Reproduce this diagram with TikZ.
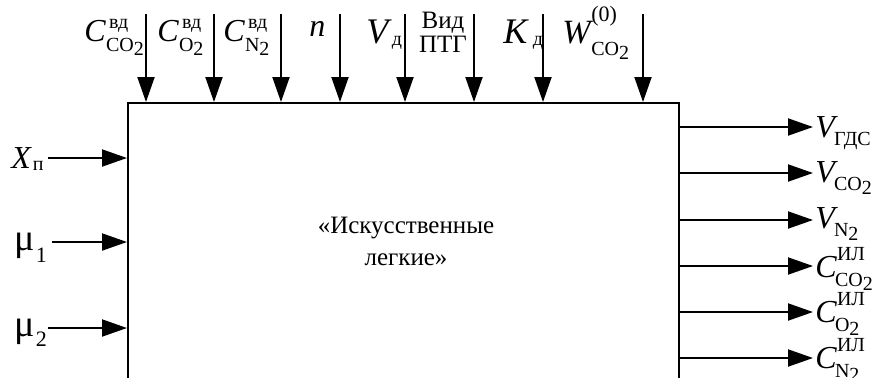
\documentclass[tikz,border=0pt]{standalone}
\usepackage{fontspec}
\setmainfont{Liberation Serif}
\usetikzlibrary{arrows.meta}

% size of indices
\newcommand\idxfont{\fontsize{10}{11}\selectfont\upshape}
% symbol with stacked sub- and superscript:
% [raise of sup][lower of sub][shift of sup][shift of sub]{base}{sub}{sup}
\NewDocumentCommand\sy{O{7pt}O{5pt}O{0.5pt}O{-1pt}mmm}{%
  #5%
  \setbox0=\hbox{\kern#3\idxfont #7}%
  \setbox2=\hbox{\kern#4\idxfont #6}%
  \dimen0=\wd0 \ifdim\wd2>\dimen0 \dimen0=\wd2 \fi
  \rlap{\raise#1\box0}\rlap{\lower#2\box2}\kern\dimen0\relax}
% chemical formula with index 2
\newcommand\two[1]{#1\lower2pt\hbox{2}}
% Greek mu, set a little larger
\newcommand\mub{{\fontsize{19}{20}\selectfont μ}}

\begin{document}
\begin{tikzpicture}[x=0.5pt,y=-0.5pt,
  arr/.style={line width=1pt,-{Triangle[length=12.5pt,width=8.5pt]}},
  sym/.style={inner sep=0pt,anchor=base west,font=\fontsize{16}{18}\selectfont},
  bigsym/.style={sym,font=\fontsize{18}{20}\selectfont},
  txt/.style={inner sep=0pt,font=\fontsize{12.5}{16}\selectfont}]
\useasboundingbox (0,0) rectangle (879,377);

% the block (its lower part runs off the page)
\node[draw,line width=1pt,inner sep=0pt,anchor=north west,
      minimum width=275.5pt,minimum height=200pt] (box) at (127,102) {};
\node[txt,align=center] (title) at (406,241) {«Искусственные\\легкие»};

% inputs from above
\foreach \n/\x in {1/146,2/214,3/281,4/340,5/405,6/474,7/543,8/643}
  \coordinate (t\n) at (\x,14);
\foreach \n in {1,...,8}
  \draw[arr] (t\n) -- (t\n |- box.north);

% inputs from the left
\coordinate (l1) at (48,158);
\coordinate (l2) at (52,242);
\coordinate (l3) at (48,328);
\foreach \n in {1,2,3}
  \draw[arr] (l\n) -- (l\n -| box.west);

% outputs to the right
\foreach \n/\y in {1/127,2/173,3/220,4/266,5/312,6/358}
  \coordinate (r\n) at (813,\y);
\foreach \n in {1,...,6}
  \draw[arr] (r\n -| box.east) -- (r\n);

% labels above
\node[sym] (lc1) at (84,41) {\sy[6.5pt][5pt][1.5pt][0pt]{\textit{C}}{\two{CO}}{вд}};
\node[sym] (lc2) at (157,41) {\sy[6.5pt][5pt][1.5pt][0pt]{\textit{C}}{\two{O}}{вд}};
\node[sym] (lc3) at (223,41) {\sy[6.5pt][5pt][1.5pt][0pt]{\textit{C}}{\two{N}}{вд}};
\node[sym] (ln) at (309,36) {\textit{n}};
\node[bigsym] (lv) at (366,43) {\sy[7pt][1pt][0pt][0pt]{\textit{V}}{д}{}};
\node[txt,anchor=base] (lvid1) at (443,28) {Вид};
\node[txt,anchor=base] (lvid2) at (443,52) {ПТГ};
\node[bigsym] (lk) at (503,43) {\sy[7pt][1pt][0pt][2pt]{\textit{K}}{д}{}};
\node[sym,font=\fontsize{17}{19}\selectfont] (lw) at (562,43)
  {\sy[11pt][6pt][-1pt][-1pt]{\textit{W}}{\two{CO}}{\fontsize{11}{12}\selectfont(0)}};

% labels on the left
\node[sym] (lx) at (11,168) {\sy[7pt][1pt][0pt][0.5pt]{\textit{X}}{п}{}};
\node[sym] (lm1) at (14,250)
  {\sy[7pt][6pt][0pt][0.5pt]{\mub}{\fontsize{11}{12}\selectfont 1}{}};
\node[sym] (lm2) at (14,336)
  {\sy[7pt][5pt][0pt][0.5pt]{\mub}{\fontsize{11}{12}\selectfont 2}{}};

% labels on the right
\node[sym] (rv1) at (815,137) {\sy[7pt][4pt][0pt][-2pt]{\textit{V}}{ГДС}{}};
\node[sym] (rv2) at (815,182) {\sy[7pt][4pt][0pt][-2pt]{\textit{V}}{\two{CO}}{}};
\node[sym] (rv3) at (815,228) {\sy[7pt][4pt][0pt][-2pt]{\textit{V}}{\two{N}}{}};
\node[sym] (rc1) at (815,277) {\sy[8.5pt][4.5pt][0pt][-1pt]{\textit{C}}{\two{CO}}{ИЛ}};
\node[sym] (rc2) at (815,322) {\sy[8.5pt][4.5pt][0pt][-1pt]{\textit{C}}{\two{O}}{ИЛ}};
\node[sym] (rc3) at (815,368) {\sy[8.5pt][4.5pt][0pt][-1pt]{\textit{C}}{\two{N}}{ИЛ}};
\end{tikzpicture}
\end{document}
